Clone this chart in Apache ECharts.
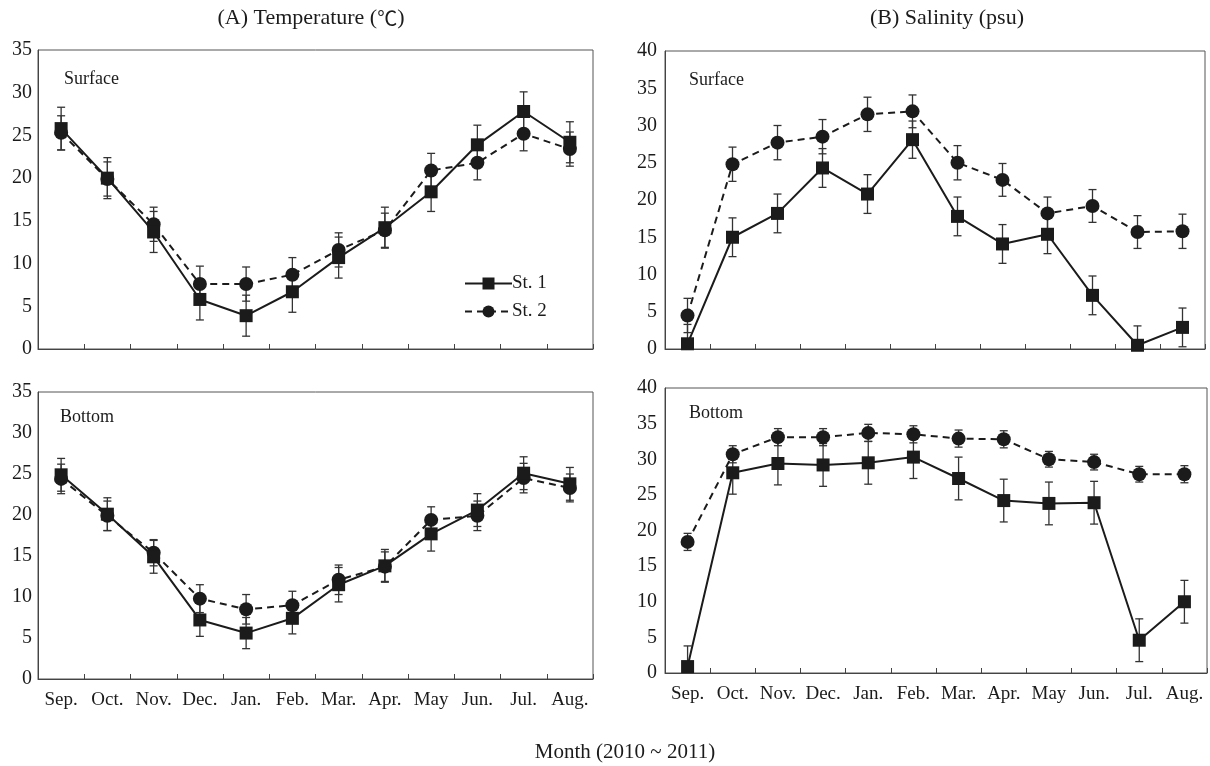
<!DOCTYPE html>
<html><head><meta charset="utf-8">
<script src="https://cdn.jsdelivr.net/npm/echarts@6/dist/echarts.min.js"></script>
<style>html,body{margin:0;padding:0;background:#fff}#c{width:1210px;height:766px}</style>
</head><body><div id="c"></div>
<script>
const months = ['Sep.','Oct.','Nov.','Dec.','Jan.','Feb.','Mar.','Apr.','May','Jun.','Jul.','Aug.'];
const tempTicks = [0,5,10,15,20,25,30,35];
const salTicks = [0,5,10,15,20,25,30,35,40];

// (A) Temperature, Surface
const tempSurfSt1    = [25.8,20.0,13.7,5.8,3.9,6.7,10.7,14.2,18.4,23.9,27.8,24.2];
const tempSurfSt1Err = [2.5,2.4,2.4,2.4,2.4,2.4,2.4,2.4,2.3,2.3,2.3,2.4];
const tempSurfSt2    = [25.3,19.9,14.6,7.6,7.6,8.7,11.6,13.9,20.9,21.8,25.2,23.4];
const tempSurfSt2Err = [2.0,2.0,2.0,2.1,2.0,2.0,2.0,2.0,2.0,2.0,2.0,2.0];
// (A) Temperature, Bottom
const tempBotSt1     = [24.9,20.1,14.9,7.2,5.6,7.4,11.5,13.8,17.7,20.6,25.1,23.8];
const tempBotSt1Err  = [2.0,2.0,2.0,2.0,1.9,1.9,2.1,2.0,2.1,2.0,2.0,2.0];
const tempBotSt2     = [24.4,19.9,15.4,9.8,8.5,9.0,12.1,13.7,19.4,19.9,24.5,23.3];
const tempBotSt2Err  = [1.8,1.8,1.6,1.7,1.8,1.7,1.8,1.8,1.6,1.8,1.8,1.7];
// (B) Salinity, Surface
const salSurfSt1     = [0.7,15.0,18.2,24.3,20.8,28.1,17.8,14.1,15.4,7.2,0.5,2.9];
const salSurfSt1Err  = [2.6,2.6,2.6,2.6,2.6,2.5,2.6,2.6,2.6,2.6,2.6,2.6];
const salSurfSt2     = [4.5,24.8,27.7,28.5,31.5,31.9,25.0,22.7,18.2,19.2,15.7,15.8];
const salSurfSt2Err  = [2.3,2.3,2.3,2.3,2.3,2.2,2.3,2.2,2.2,2.2,2.2,2.3];
// (B) Salinity, Bottom
const salBotSt1      = [0.9,28.1,29.4,29.2,29.5,30.3,27.3,24.2,23.8,23.9,4.6,10.0];
const salBotSt1Err   = [2.9,3.0,3.0,3.0,3.0,3.0,3.0,3.0,3.0,3.0,3.0,3.0];
const salBotSt2      = [18.4,30.7,33.1,33.1,33.7,33.5,32.9,32.8,30.0,29.6,27.9,27.9];
const salBotSt2Err   = [1.2,1.2,1.2,1.2,1.2,1.2,1.2,1.2,1.1,1.1,1.1,1.2];

const FONT = '"Liberation Serif","DejaVu Serif","Noto Sans CJK SC",serif';
const CJK = '"Noto Sans CJK SC","Liberation Serif",serif';
const INK = '#1b1b1b';

const grids = [
  {left:38, top:50, width:555, height:299},
  {left:38, top:392, width:555, height:287},
  {left:665, top:51, width:540, height:298},
  {left:665, top:388, width:542, height:285}
];
const panels = [
  {s1:tempSurfSt1, e1:tempSurfSt1Err, s2:tempSurfSt2, e2:tempSurfSt2Err, ticks:tempTicks, labels:false, m:6},
  {s1:tempBotSt1,  e1:tempBotSt1Err,  s2:tempBotSt2,  e2:tempBotSt2Err,  ticks:tempTicks, labels:true,  m:6},
  {s1:salSurfSt1,  e1:salSurfSt1Err,  s2:salSurfSt2,  e2:salSurfSt2Err,  ticks:salTicks,  labels:false, m:8},
  {s1:salBotSt1,   e1:salBotSt1Err,   s2:salBotSt2,   e2:salBotSt2Err,   ticks:salTicks,  labels:true,  m:8}
];

function errItem(params, api){
  const x = api.value(0), y = api.value(1), e = api.value(2);
  const top = api.coord([x, y + e]);
  const lowVal = y - e;
  const bot = api.coord([x, Math.max(0, lowVal)]);
  const cw = 4;
  const st = {stroke: '#333', lineWidth: 1.3};
  const kids = [
    {type:'line', shape:{x1:top[0], y1:top[1], x2:bot[0], y2:bot[1]}, style:st},
    {type:'line', shape:{x1:top[0]-cw, y1:top[1], x2:top[0]+cw, y2:top[1]}, style:st}
  ];
  if (lowVal >= 0) kids.push({type:'line', shape:{x1:bot[0]-cw, y1:bot[1], x2:bot[0]+cw, y2:bot[1]}, style:st});
  return {type:'group', children:kids};
}

const xAxes = [], yAxes = [], series = [];
panels.forEach((p, i) => {
  xAxes.push({
    type:'category', gridIndex:i, data:months, boundaryGap:true,
    axisLine:{lineStyle:{color:'#444', width:1}},
    axisTick:{show:true, inside:true, length:5, interval:0, alignWithLabel:false, lineStyle:{color:'#444'}},
    axisLabel:{show:p.labels, interval:0, hideOverlap:false, color:INK, fontFamily:FONT, fontSize:19, margin:12}
  });
  const mx = p.ticks[p.ticks.length-1];
  yAxes.push({
    type:'value', gridIndex:i, min:p.ticks[0], max:mx, interval:5,
    splitLine:{show:false},
    axisLine:{show:true, lineStyle:{color:'#444', width:1}},
    axisTick:{show:false},
    axisLabel:{color:INK, fontFamily:FONT, fontSize:20, margin:p.m}
  });
  series.push({
    type:'custom', name:'err1_'+i, xAxisIndex:i, yAxisIndex:i, renderItem:errItem, z:1,
    encode:{x:0, y:1}, silent:true,
    data:p.s1.map((v,k)=>[k, v, p.e1[k]])
  });
  series.push({
    type:'custom', name:'err2_'+i, xAxisIndex:i, yAxisIndex:i, renderItem:errItem, z:1,
    encode:{x:0, y:1}, silent:true,
    data:p.s2.map((v,k)=>[k, v, p.e2[k]])
  });
  series.push({
    type:'line', name:'St. 2', xAxisIndex:i, yAxisIndex:i, data:p.s2, z:3,
    symbol:'circle', symbolSize:14, showAllSymbol:true,
    lineStyle:{color:INK, width:2, type:[7,5]}, itemStyle:{color:INK},
    emphasis:{disabled:true}, animation:false
  });
  series.push({
    type:'line', name:'St. 1', xAxisIndex:i, yAxisIndex:i, data:p.s1, z:4,
    symbol:'rect', symbolSize:13, showAllSymbol:true,
    lineStyle:{color:INK, width:2, type:'solid'}, itemStyle:{color:INK},
    emphasis:{disabled:true}, animation:false
  });
});

const ts = {fontFamily:FONT, fontSize:22, fontWeight:'normal', color:INK};
const ls = {fontFamily:FONT, fontSize:18, fontWeight:'normal', color:INK};
const option = {
  backgroundColor:'#fff',
  animation:false,
  title:[
    {text:'(A) Temperature ({c|℃})', left:306, top:2, textAlign:'center',
     textStyle:Object.assign({}, ts, {rich:{c:{fontFamily:CJK, fontSize:20, color:INK}}})},
    {text:'(B) Salinity (psu)', left:942, top:2, textAlign:'center', textStyle:ts},
    {text:'Month (2010 ~ 2011)', left:620, top:737, textAlign:'center', textStyle:Object.assign({}, ts, {fontSize:21})},
    {text:'Surface', left:59, top:65, textStyle:ls},
    {text:'Bottom', left:55, top:403, textStyle:ls},
    {text:'Surface', left:684, top:66, textStyle:ls},
    {text:'Bottom', left:684, top:399, textStyle:ls}
  ],
  legend:{
    data:['St. 1','St. 2'], orient:'vertical', left:459, top:269,
    itemWidth:47, itemHeight:15, itemGap:9, selectedMode:false,
    textStyle:{fontFamily:FONT, fontSize:19, color:INK, padding:[0,0,0,-5]}
  },
  grid:grids.map(g => Object.assign({show:true, borderColor:'#555', borderWidth:1, backgroundColor:'transparent', containLabel:false}, g)),
  xAxis:xAxes,
  yAxis:yAxes,
  series:series
};
const chart = echarts.init(document.getElementById('c'), null, {renderer:'canvas'});
chart.setOption(option);
</script></body></html>
